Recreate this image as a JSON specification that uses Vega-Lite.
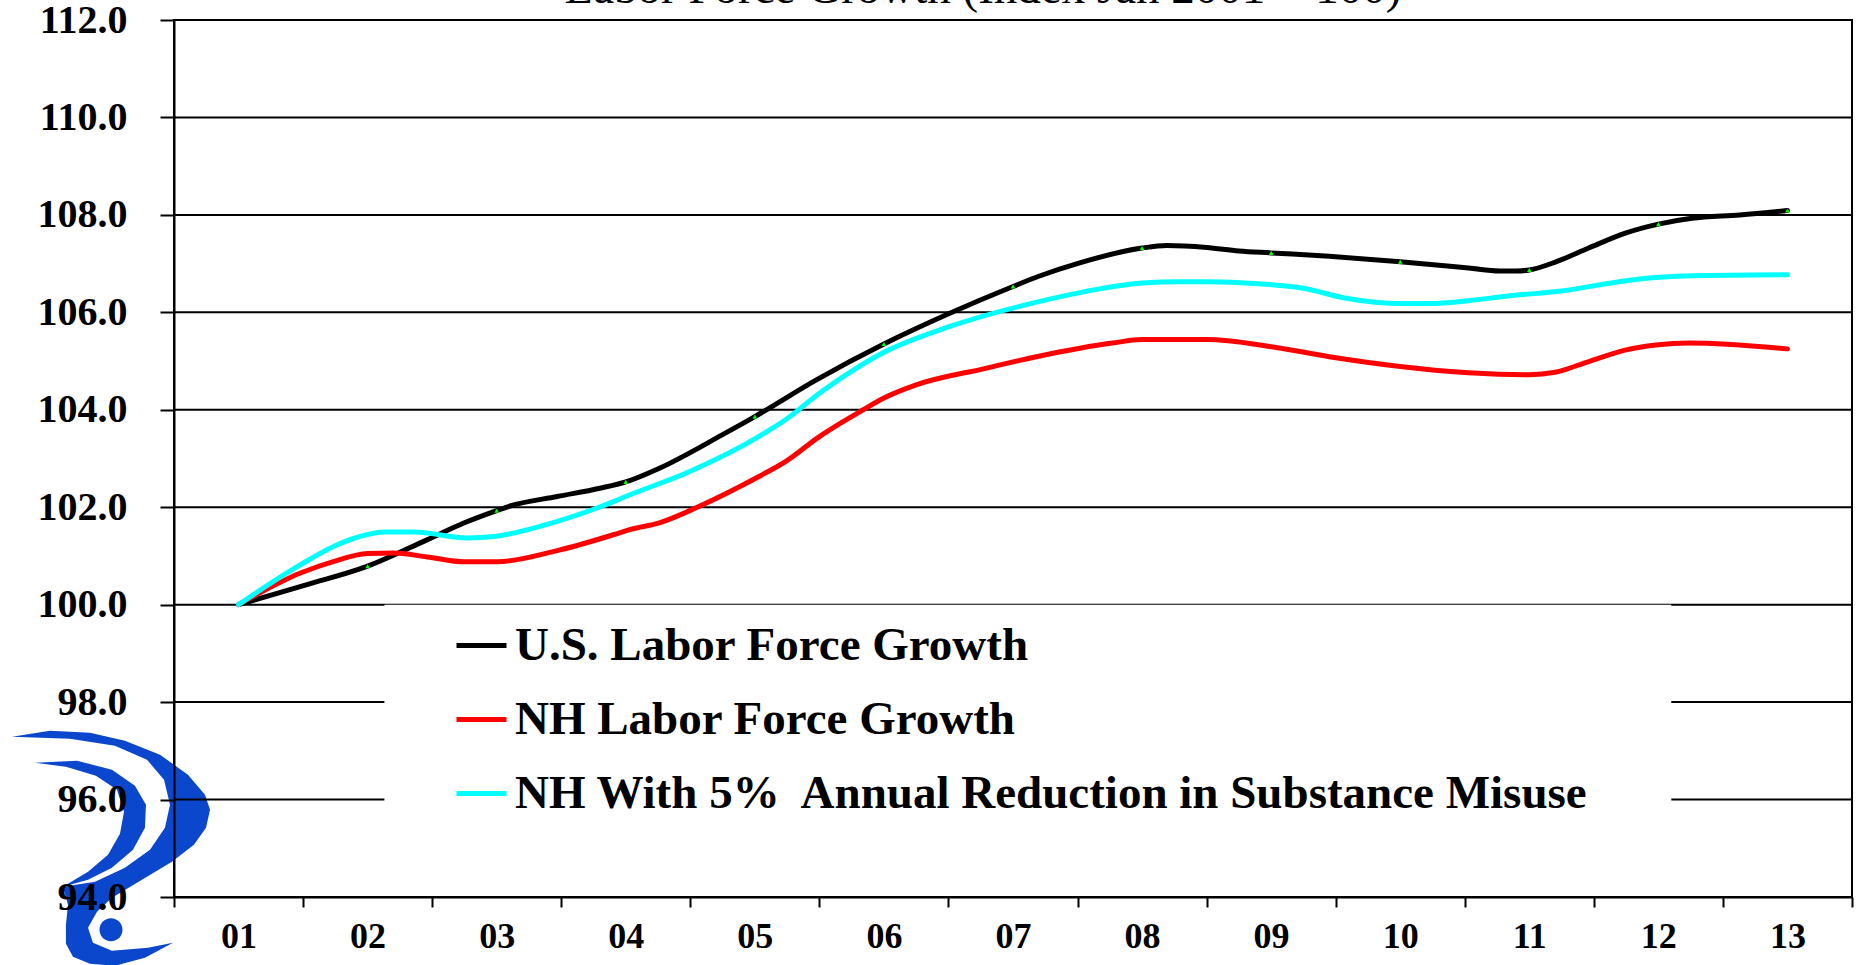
{
  "$schema": "https://vega.github.io/schema/vega-lite/v6.json",
  "width": 1678,
  "height": 877,
  "autosize": {"type": "none"},
  "padding": {"left": 174, "top": 20, "right": 4, "bottom": 68},
  "background": "white",
  "title": {
    "text": "Labor Force Growth (Index Jan 2001 = 100)",
    "font": "Liberation Serif",
    "fontSize": 47,
    "fontWeight": "normal",
    "color": "#000",
    "baseline": "alphabetic",
    "offset": -50,
    "dx": -30
  },
  "config": {
    "view": {"stroke": "#000", "strokeWidth": 2}
  },
  "datasets": {
    "logo": [{"x": 0.004, "v": 94.97}],
    "grid": [{"v": 96}, {"v": 98}, {"v": 100}, {"v": 102}, {"v": 104}, {"v": 106}, {"v": 108}, {"v": 110}, {"v": 112}],
    "box": [{"x": 2.13, "x2": 12.1, "v": 100, "v2": 94.15}],
    "series": [
      {"s": "U.S. Labor Force Growth", "x": 1, "v": 100},
      {"s": "U.S. Labor Force Growth", "x": 1.53, "v": 100.41},
      {"s": "U.S. Labor Force Growth", "x": 2, "v": 100.79},
      {"s": "U.S. Labor Force Growth", "x": 2.46, "v": 101.33},
      {"s": "U.S. Labor Force Growth", "x": 2.75, "v": 101.68},
      {"s": "U.S. Labor Force Growth", "x": 3, "v": 101.93},
      {"s": "U.S. Labor Force Growth", "x": 3.11, "v": 102.03},
      {"s": "U.S. Labor Force Growth", "x": 3.47, "v": 102.22},
      {"s": "U.S. Labor Force Growth", "x": 3.8, "v": 102.39},
      {"s": "U.S. Labor Force Growth", "x": 4, "v": 102.52},
      {"s": "U.S. Labor Force Growth", "x": 4.26, "v": 102.8},
      {"s": "U.S. Labor Force Growth", "x": 4.75, "v": 103.49},
      {"s": "U.S. Labor Force Growth", "x": 5, "v": 103.86},
      {"s": "U.S. Labor Force Growth", "x": 5.48, "v": 104.62},
      {"s": "U.S. Labor Force Growth", "x": 6, "v": 105.35},
      {"s": "U.S. Labor Force Growth", "x": 6.51, "v": 105.98},
      {"s": "U.S. Labor Force Growth", "x": 7, "v": 106.53},
      {"s": "U.S. Labor Force Growth", "x": 7.2, "v": 106.74},
      {"s": "U.S. Labor Force Growth", "x": 7.51, "v": 107.01},
      {"s": "U.S. Labor Force Growth", "x": 8, "v": 107.32},
      {"s": "U.S. Labor Force Growth", "x": 8.19, "v": 107.37},
      {"s": "U.S. Labor Force Growth", "x": 8.5, "v": 107.33},
      {"s": "U.S. Labor Force Growth", "x": 8.75, "v": 107.26},
      {"s": "U.S. Labor Force Growth", "x": 9, "v": 107.22},
      {"s": "U.S. Labor Force Growth", "x": 9.45, "v": 107.15},
      {"s": "U.S. Labor Force Growth", "x": 10, "v": 107.04},
      {"s": "U.S. Labor Force Growth", "x": 10.53, "v": 106.91},
      {"s": "U.S. Labor Force Growth", "x": 10.77, "v": 106.85},
      {"s": "U.S. Labor Force Growth", "x": 10.9, "v": 106.85},
      {"s": "U.S. Labor Force Growth", "x": 11, "v": 106.87},
      {"s": "U.S. Labor Force Growth", "x": 11.21, "v": 107.04},
      {"s": "U.S. Labor Force Growth", "x": 11.46, "v": 107.32},
      {"s": "U.S. Labor Force Growth", "x": 11.75, "v": 107.63},
      {"s": "U.S. Labor Force Growth", "x": 12, "v": 107.81},
      {"s": "U.S. Labor Force Growth", "x": 12.26, "v": 107.93},
      {"s": "U.S. Labor Force Growth", "x": 12.63, "v": 108.0},
      {"s": "U.S. Labor Force Growth", "x": 13, "v": 108.09},
      {"s": "NH Labor Force Growth", "x": 1, "v": 100},
      {"s": "NH Labor Force Growth", "x": 1.48, "v": 100.65},
      {"s": "NH Labor Force Growth", "x": 1.74, "v": 100.89},
      {"s": "NH Labor Force Growth", "x": 2, "v": 101.05},
      {"s": "NH Labor Force Growth", "x": 2.2, "v": 101.06},
      {"s": "NH Labor Force Growth", "x": 2.46, "v": 100.98},
      {"s": "NH Labor Force Growth", "x": 2.75, "v": 100.88},
      {"s": "NH Labor Force Growth", "x": 3, "v": 100.88},
      {"s": "NH Labor Force Growth", "x": 3.47, "v": 101.11},
      {"s": "NH Labor Force Growth", "x": 3.91, "v": 101.44},
      {"s": "NH Labor Force Growth", "x": 4.03, "v": 101.54},
      {"s": "NH Labor Force Growth", "x": 4.26, "v": 101.68},
      {"s": "NH Labor Force Growth", "x": 4.57, "v": 102.02},
      {"s": "NH Labor Force Growth", "x": 5.01, "v": 102.6},
      {"s": "NH Labor Force Growth", "x": 5.24, "v": 102.94},
      {"s": "NH Labor Force Growth", "x": 5.5, "v": 103.45},
      {"s": "NH Labor Force Growth", "x": 5.84, "v": 104.0},
      {"s": "NH Labor Force Growth", "x": 6, "v": 104.24},
      {"s": "NH Labor Force Growth", "x": 6.25, "v": 104.51},
      {"s": "NH Labor Force Growth", "x": 6.77, "v": 104.84},
      {"s": "NH Labor Force Growth", "x": 7.2, "v": 105.1},
      {"s": "NH Labor Force Growth", "x": 7.77, "v": 105.37},
      {"s": "NH Labor Force Growth", "x": 8, "v": 105.44},
      {"s": "NH Labor Force Growth", "x": 8.5, "v": 105.44},
      {"s": "NH Labor Force Growth", "x": 8.99, "v": 105.3},
      {"s": "NH Labor Force Growth", "x": 9.45, "v": 105.09},
      {"s": "NH Labor Force Growth", "x": 10, "v": 104.89},
      {"s": "NH Labor Force Growth", "x": 10.53, "v": 104.76},
      {"s": "NH Labor Force Growth", "x": 11, "v": 104.72},
      {"s": "NH Labor Force Growth", "x": 11.2, "v": 104.77},
      {"s": "NH Labor Force Growth", "x": 11.46, "v": 104.99},
      {"s": "NH Labor Force Growth", "x": 11.75, "v": 105.23},
      {"s": "NH Labor Force Growth", "x": 11.98, "v": 105.33},
      {"s": "NH Labor Force Growth", "x": 12.24, "v": 105.37},
      {"s": "NH Labor Force Growth", "x": 13, "v": 105.25},
      {"s": "NH With 5%\u00a0 Annual Reduction in Substance Misuse", "x": 1, "v": 100},
      {"s": "NH With 5%\u00a0 Annual Reduction in Substance Misuse", "x": 1.48, "v": 100.82},
      {"s": "NH With 5%\u00a0 Annual Reduction in Substance Misuse", "x": 1.74, "v": 101.2},
      {"s": "NH With 5%\u00a0 Annual Reduction in Substance Misuse", "x": 2, "v": 101.44},
      {"s": "NH With 5%\u00a0 Annual Reduction in Substance Misuse", "x": 2.13, "v": 101.49},
      {"s": "NH With 5%\u00a0 Annual Reduction in Substance Misuse", "x": 2.36, "v": 101.49},
      {"s": "NH With 5%\u00a0 Annual Reduction in Substance Misuse", "x": 2.77, "v": 101.37},
      {"s": "NH With 5%\u00a0 Annual Reduction in Substance Misuse", "x": 2.98, "v": 101.4},
      {"s": "NH With 5%\u00a0 Annual Reduction in Substance Misuse", "x": 3.47, "v": 101.71},
      {"s": "NH With 5%\u00a0 Annual Reduction in Substance Misuse", "x": 3.91, "v": 102.12},
      {"s": "NH With 5%\u00a0 Annual Reduction in Substance Misuse", "x": 4, "v": 102.22},
      {"s": "NH With 5%\u00a0 Annual Reduction in Substance Misuse", "x": 4.5, "v": 102.74},
      {"s": "NH With 5%\u00a0 Annual Reduction in Substance Misuse", "x": 5.01, "v": 103.42},
      {"s": "NH With 5%\u00a0 Annual Reduction in Substance Misuse", "x": 5.24, "v": 103.8},
      {"s": "NH With 5%\u00a0 Annual Reduction in Substance Misuse", "x": 5.5, "v": 104.34},
      {"s": "NH With 5%\u00a0 Annual Reduction in Substance Misuse", "x": 5.79, "v": 104.86},
      {"s": "NH With 5%\u00a0 Annual Reduction in Substance Misuse", "x": 6, "v": 105.18},
      {"s": "NH With 5%\u00a0 Annual Reduction in Substance Misuse", "x": 6.51, "v": 105.71},
      {"s": "NH With 5%\u00a0 Annual Reduction in Substance Misuse", "x": 7.2, "v": 106.22},
      {"s": "NH With 5%\u00a0 Annual Reduction in Substance Misuse", "x": 7.51, "v": 106.4},
      {"s": "NH With 5%\u00a0 Annual Reduction in Substance Misuse", "x": 8, "v": 106.6},
      {"s": "NH With 5%\u00a0 Annual Reduction in Substance Misuse", "x": 8.29, "v": 106.63},
      {"s": "NH With 5%\u00a0 Annual Reduction in Substance Misuse", "x": 8.5, "v": 106.63},
      {"s": "NH With 5%\u00a0 Annual Reduction in Substance Misuse", "x": 8.99, "v": 106.57},
      {"s": "NH With 5%\u00a0 Annual Reduction in Substance Misuse", "x": 9.24, "v": 106.5},
      {"s": "NH With 5%\u00a0 Annual Reduction in Substance Misuse", "x": 9.58, "v": 106.29},
      {"s": "NH With 5%\u00a0 Annual Reduction in Substance Misuse", "x": 10, "v": 106.18},
      {"s": "NH With 5%\u00a0 Annual Reduction in Substance Misuse", "x": 10.23, "v": 106.18},
      {"s": "NH With 5%\u00a0 Annual Reduction in Substance Misuse", "x": 10.53, "v": 106.24},
      {"s": "NH With 5%\u00a0 Annual Reduction in Substance Misuse", "x": 10.82, "v": 106.33},
      {"s": "NH With 5%\u00a0 Annual Reduction in Substance Misuse", "x": 11.28, "v": 106.45},
      {"s": "NH With 5%\u00a0 Annual Reduction in Substance Misuse", "x": 11.75, "v": 106.65},
      {"s": "NH With 5%\u00a0 Annual Reduction in Substance Misuse", "x": 12.01, "v": 106.72},
      {"s": "NH With 5%\u00a0 Annual Reduction in Substance Misuse", "x": 12.27, "v": 106.75},
      {"s": "NH With 5%\u00a0 Annual Reduction in Substance Misuse", "x": 13, "v": 106.77}
    ]
  },
  "layer": [
    {
      "data": {"name": "logo"},
      "mark": {"type": "point", "filled": true, "opacity": 1, "color": "#0a47cc", "strokeWidth": 0, "size": 52900,
        "shape": "M -0.852,-0.983 L -0.522,-1.035 L -0.174,-1.017 L 0.130,-0.948 L 0.435,-0.826 L 0.678,-0.652 L 0.826,-0.478 L 0.870,-0.348 L 0.835,-0.191 L 0.730,-0.043 L 0.539,0.104 L 0.278,0.261 L 0.017,0.417 L -0.113,0.539 L -0.191,0.678 L -0.148,0.809 L 0.017,0.878 L 0.330,0.852 L 0.548,0.809 L 0.304,0.939 L 0.043,1.009 L -0.174,0.991 L -0.322,0.930 L -0.383,0.817 L -0.383,0.652 L -0.365,0.478 L -0.409,0.322 L -0.130,0.278 L 0.130,0.157 L 0.348,0 L 0.478,-0.191 L 0.522,-0.391 L 0.470,-0.609 L 0.322,-0.783 L 0.043,-0.904 L -0.348,-0.965 Z M -0.652,-0.757 L -0.287,-0.774 L 0.017,-0.696 L 0.217,-0.557 L 0.313,-0.391 L 0.304,-0.191 L 0.2,0 L 0.017,0.157 L -0.191,0.261 L -0.409,0.322 L -0.191,0.191 L -0.017,0.043 L 0.087,-0.139 L 0.122,-0.330 L 0.061,-0.522 L -0.122,-0.643 L -0.383,-0.722 Z M -0.091,0.696 A 0.1,0.1 0 1,0 0.109,0.696 A 0.1,0.1 0 1,0 -0.091,0.696 Z"},
      "encoding": {
        "x": {"field": "x", "type": "quantitative", "scale": {"domain": [0.5, 13.5], "nice": false, "zero": false},
          "axis": {"values": [0.5, 1.5, 2.5, 3.5, 4.5, 5.5, 6.5, 7.5, 8.5, 9.5, 10.5, 11.5, 12.5, 13.5],
            "labelExpr": "datum.value > 13 ? '' : (datum.value < 9 ? '0' : '') + format(datum.value + 0.5, 'd')",
            "labelOffset": 64.5, "labelFlush": false, "labelOverlap": false, "labelBound": false,
            "labelFont": "Liberation Serif", "labelFontSize": 36, "labelFontWeight": "bold", "labelColor": "#000",
            "labelPadding": 29, "labelBaseline": "middle", "labelAlign": "center",
            "tickSize": 10, "tickWidth": 2, "tickColor": "#000", "domainColor": "#000", "domainWidth": 2,
            "grid": false, "title": null, "zindex": 1}},
        "y": {"field": "v", "type": "quantitative", "scale": {"domain": [94, 112], "nice": false, "zero": false},
          "axis": {"values": [94, 96, 98, 100, 102, 104, 106, 108, 110, 112], "format": ".1f",
            "grid": false,
            "labelFont": "Liberation Serif", "labelFontSize": 40, "labelFontWeight": "bold", "labelColor": "#000",
            "labelPadding": 33, "labelFlush": false, "labelOverlap": false,
            "tickSize": 14, "tickWidth": 2, "tickColor": "#000", "domainColor": "#000", "domainWidth": 2,
            "title": null, "zindex": 1}}
      }
    },
    {
      "data": {"name": "grid"},
      "mark": {"type": "rule", "color": "#000", "strokeWidth": 2},
      "encoding": {
        "y": {"field": "v", "type": "quantitative"}
      }
    },
    {
      "data": {"name": "box"},
      "mark": {"type": "rect", "fill": "white", "stroke": null},
      "encoding": {
        "x": {"field": "x", "type": "quantitative"},
        "x2": {"field": "x2"},
        "y": {"field": "v", "type": "quantitative"},
        "y2": {"field": "v2"}
      }
    },
    {
      "data": {"name": "series"},
      "mark": {"type": "line", "interpolate": "monotone", "strokeWidth": 5, "strokeCap": "round"},
      "encoding": {
        "x": {"field": "x", "type": "quantitative"},
        "y": {"field": "v", "type": "quantitative"},
        "color": {"field": "s", "type": "nominal",
          "scale": {"domain": ["U.S. Labor Force Growth", "NH Labor Force Growth", "NH With 5%\u00a0 Annual Reduction in Substance Misuse"],
            "range": ["#000000", "#ff0000", "#00ffff"]},
          "legend": {"orient": "none", "legendX": 280, "legendY": 598, "title": null, "direction": "vertical",
            "symbolType": "stroke", "symbolSize": 2500, "symbolStrokeWidth": 5,
            "labelFont": "Liberation Serif", "labelFontSize": 47, "labelFontWeight": "bold", "labelColor": "#000",
            "labelLimit": 3000, "rowPadding": 23, "labelOffset": 6, "padding": 0}}
      }
    },
    {
      "data": {"name": "series"},
      "transform": [{"filter": "datum.s == 'U.S. Labor Force Growth' && datum.x >= 2 && datum.x == floor(datum.x)"}],
      "mark": {"type": "point", "shape": "triangle-up", "filled": true, "size": 22, "color": "#00ff00", "opacity": 1},
      "encoding": {
        "x": {"field": "x", "type": "quantitative"},
        "y": {"field": "v", "type": "quantitative"}
      }
    }
  ]
}
